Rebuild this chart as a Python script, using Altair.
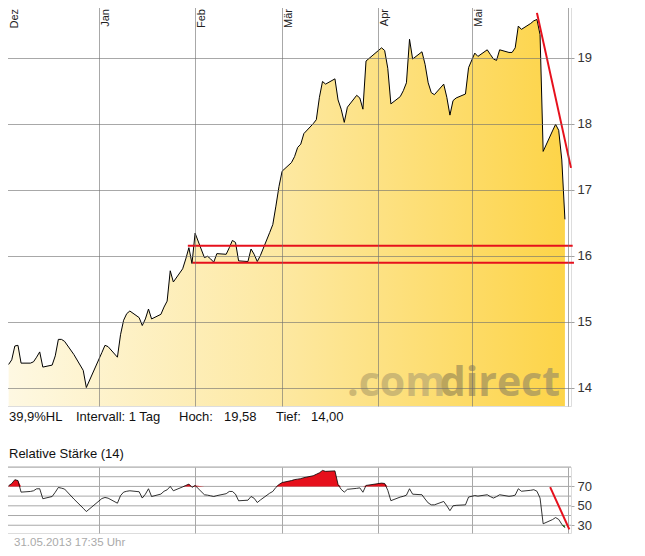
import altair as alt
import pandas as pd

# ---------------- data ----------------
dec_days = [3, 4, 5, 6, 7, 10, 11, 12, 13, 14, 17, 18, 19, 20, 21, 24, 27, 28]
dec_close = [14.35, 14.42, 14.63, 14.64, 14.37, 14.37, 14.39, 14.46, 14.54, 14.31, 14.34, 14.48, 14.73, 14.73, 14.70, 14.50, 14.26, 14.00]
dec_rsi = [70.7, 73.0, 76.9, 76.0, 64.1, 64.8, 65.5, 67.5, 67.6, 57.3, 59.6, 64.0, 68.9, 68.2, 67.3, 57.0, 47.5, 44.1]

jan_days = [2, 3, 4, 7, 8, 9, 10, 11, 14, 15, 16, 17, 18, 21, 22, 23, 24, 25, 28, 29, 30, 31]
jan_close = [14.53, 14.64, 14.62, 14.46, 14.80, 15.02, 15.12, 15.16, 15.06, 14.94, 15.04, 15.19, 15.04, 15.11, 15.22, 15.31, 15.77, 15.60, 15.80, 15.95, 16.12, 15.88]
jan_rsi = [57.5, 58.6, 57.9, 52.7, 60.5, 64.1, 65.0, 65.5, 64.5, 58.0, 62.0, 67.6, 59.6, 62.1, 65.0, 66.5, 70.0, 65.5, 69.5, 71.0, 72.4, 69.0]

feb_days = [1, 4, 5, 6, 7, 8, 11, 12, 13, 14, 15, 18, 19, 20, 21, 22, 25, 26, 27, 28]
feb_close = [16.34, 15.97, 15.99, 15.95, 15.90, 16.03, 16.02, 16.12, 16.23, 16.20, 15.92, 15.91, 16.10, 16.02, 15.91, 16.00, 16.35, 16.47, 16.75, 17.05]
feb_rsi = [71.0, 61.4, 61.0, 60.3, 59.6, 60.5, 62.5, 64.8, 64.8, 62.0, 55.2, 55.8, 59.6, 57.8, 53.4, 56.0, 63.0, 64.8, 69.0, 72.0]

mar_days = [1, 4, 5, 6, 7, 8, 11, 12, 13, 14, 15, 18, 19, 20, 21, 22, 25, 26, 27, 28]
mar_close = [17.28, 17.41, 17.50, 17.64, 17.69, 17.85, 18.00, 18.06, 18.40, 18.64, 18.60, 18.68, 18.36, 18.22, 18.02, 18.25, 18.43, 18.39, 18.22, 18.95]
mar_rsi = [74.0, 76.0, 77.0, 77.5, 78.0, 79.0, 81.0, 82.5, 84.0, 86.5, 85.5, 86.0, 72.0, 67.0, 64.1, 67.0, 68.0, 68.5, 64.0, 71.0]

apr_days = [2, 3, 4, 5, 8, 9, 10, 11, 12, 15, 16, 17, 18, 19, 22, 23, 24, 25, 26, 29, 30]
apr_close = [19.15, 19.11, 18.84, 18.30, 18.41, 18.50, 18.62, 19.28, 18.98, 19.09, 18.90, 18.62, 18.47, 18.44, 18.60, 18.40, 18.13, 18.35, 18.39, 18.45, 18.85]
apr_rsi = [73.4, 73.0, 66.0, 55.3, 59.0, 59.8, 61.0, 67.6, 62.0, 61.4, 57.0, 53.0, 51.0, 51.0, 54.5, 50.0, 45.0, 50.0, 50.5, 51.0, 59.0]

may_days = [2, 3, 6, 7, 8, 9, 10, 13, 14, 15, 16, 17, 20, 21, 22, 23, 24, 27, 28, 29, 30, 31]
may_close = [19.07, 19.02, 19.12, 19.05, 18.98, 18.96, 19.12, 19.08, 19.08, 19.15, 19.48, 19.43, 19.52, 19.56, 19.58, 19.35, 17.58, 17.89, 17.99, 17.90, 17.45, 16.55]
may_rsi = [60.6, 60.0, 61.4, 59.5, 58.0, 59.5, 61.4, 59.8, 60.2, 61.0, 67.6, 65.0, 66.0, 66.6, 65.0, 58.0, 31.5, 35.8, 37.9, 36.0, 31.0, 27.5]

month_labels = ["Dez", "Jan", "Feb", "Mär", "Apr", "Mai"]
month_starts = ["2012-12-01", "2013-01-01", "2013-02-01", "2013-03-01", "2013-04-01", "2013-05-01"]
grid_months = month_starts + ["2013-06-01"]

# support / resistance lines and trend lines drawn on the chart
level_values = [16.15, 15.89]
level_starts = ["2013-01-29T16:00:00", "2013-01-31T06:00:00"]
level_ends = ["2013-06-02T12:00:00", "2013-06-02T22:00:00"]
trend_dates = ["2013-05-22T00:00:00", "2013-06-01T23:00:00"]
trend_values = [19.68, 17.33]
rsi_trend_dates = ["2013-05-26T06:00:00", "2013-06-01T10:00:00"]
rsi_trend_values = [69.3, 25.8]

price_ticks = [14, 15, 16, 17, 18, 19]
price_domain = [13.72, 19.86]
rsi_grid = [30, 40, 50, 60, 70, 80, 90]
rsi_ticks = [30, 50, 70]
rsi_domain = [22, 90]
timestamp = "31.05.2013 17:35 Uhr"

# ---------------- build tables ----------------
rows = []
for yr, mo, days, closes, rsis in [
    (2012, 12, dec_days, dec_close, dec_rsi),
    (2013, 1, jan_days, jan_close, jan_rsi),
    (2013, 2, feb_days, feb_close, feb_rsi),
    (2013, 3, mar_days, mar_close, mar_rsi),
    (2013, 4, apr_days, apr_close, apr_rsi),
    (2013, 5, may_days, may_close, may_rsi),
]:
    for d, c, r in zip(days, closes, rsis):
        rows.append({"date": pd.Timestamp(yr, mo, d), "close": c, "rsi": r})
df = pd.DataFrame(rows)

hi, lo = df["close"].max(), df["close"].min()
fmt = lambda v: f"{v:.2f}".replace(".", ",")
hl_text = f"{(hi - lo) / lo * 100:.1f}".replace(".", ",") + "%HL"

months_df = pd.DataFrame({"date": pd.to_datetime(month_starts), "label": month_labels})
levels_df = pd.DataFrame({"start": pd.to_datetime(level_starts), "end": pd.to_datetime(level_ends), "level": level_values})
trend_df = pd.DataFrame({"date": pd.to_datetime(trend_dates), "value": trend_values})
rsi_trend_df = pd.DataFrame({"date": pd.to_datetime(rsi_trend_dates), "value": rsi_trend_values})
rsi_grid_df = pd.DataFrame({"v": rsi_grid})

# ---------------- styling ----------------
FONT = "Liberation Sans"
RED = "#e6101c"
W, H_MAIN, H_RSI = 570, 405, 66

x_dom = [alt.DateTime(year=2012, month=11, date=30, hours=13),
         alt.DateTime(year=2013, month=6, date=1, hours=23)]
grid_vals = [alt.DateTime(year=int(s[:4]), month=int(s[5:7]), date=1) for s in grid_months]
x_scale = alt.Scale(domain=x_dom)

x_axis_main = alt.Axis(values=grid_vals, grid=True, labels=False, ticks=False, domain=False,
                       title=None, gridColor="#6e6e6e", gridOpacity=0.6, zindex=1)
y_axis_main = alt.Axis(orient="right", values=price_ticks, format="d", grid=True,
                       gridColor="#6e6e6e", gridOpacity=0.6, tickColor="#a0a0a0", tickSize=3,
                       labelPadding=3, labelFontSize=13, labelColor="#333333", labelFont=FONT,
                       labelOverlap=False, domain=False, title=None, zindex=1)

grad = alt.Gradient(gradient="linear",
                    stops=[alt.GradientStop(color="#fef8e2", offset=0),
                           alt.GradientStop(color="#fde8a0", offset=0.5),
                           alt.GradientStop(color="#fdd448", offset=1)],
                    x1=0, x2=1, y1=0, y2=0)

base = alt.Chart(df)
y_price = alt.Y("close:Q", scale=alt.Scale(domain=price_domain, zero=False, nice=False), axis=y_axis_main)

area = base.transform_calculate(floor=str(price_domain[0])).mark_area(color=grad).encode(
    x=alt.X("date:T", scale=x_scale, axis=x_axis_main), y=y_price, y2="floor:Q")
line = base.mark_line(color="black", strokeWidth=1).encode(x="date:T", y="close:Q")
levels = alt.Chart(levels_df).mark_rule(color=RED, strokeWidth=2).encode(
    x="start:T", x2="end:T", y="level:Q")
trend = alt.Chart(trend_df).mark_line(color=RED, strokeWidth=2).encode(x="date:T", y="value:Q")

label_style = dict(angle=270, align="right", baseline="top", fontSize=11, font=FONT, color="#222222")
mlabel_first = alt.Chart(months_df.iloc[:1]).mark_text(dy=7, **label_style).encode(
    x="date:T", y=alt.value(8), text="label:N")
mlabels = alt.Chart(months_df.iloc[1:]).mark_text(dy=1, **label_style).encode(
    x="date:T", y=alt.value(8), text="label:N")


def label(txt, x, y, size=13, color="#111111", align="left", weight="normal", font=FONT):
    return alt.Chart(pd.DataFrame({"t": [txt]})).mark_text(
        align=align, baseline="alphabetic", fontSize=size, color=color, font=font,
        fontWeight=weight).encode(x=alt.value(x), y=alt.value(y), text="t:N")


wm1 = label(".com", 346, 395, size=41, color="#cdb873", weight="bold", font="Open Sans")
wm2 = label("direct", 559, 395, size=41, color="#bba55c", align="right", weight="bold", font="Open Sans")

info = [label(hl_text, 8, 420), label("Intervall: 1 Tag", 75, 420), label("Hoch:", 178, 420),
        label(fmt(hi), 223, 420), label("Tief:", 275, 420), label(fmt(lo), 310, 420)]

main = alt.layer(area, wm1, wm2, line, levels, trend, mlabel_first, mlabels, *info).properties(
    width=W, height=H_MAIN)

# ---------------- RSI panel ----------------
rsi_scale = alt.Scale(domain=rsi_domain, zero=False, nice=False)
x_axis_rsi = alt.Axis(values=grid_vals, grid=True, labels=False, ticks=False, domain=False,
                      title=None, gridColor="#a8a8a8")
y_axis_rsi = alt.Axis(orient="right", values=rsi_ticks, grid=False, tickColor="#a8a8a8", tickSize=3,
                      labelPadding=3, labelFontSize=13, labelColor="#333333", labelFont=FONT,
                      labelOverlap=False, labelBound=False, domain=False, title=None)

grid_rules = alt.Chart(rsi_grid_df).mark_rule(color="#a8a8a8", strokeWidth=1).encode(
    y=alt.Y("v:Q", scale=rsi_scale, axis=y_axis_rsi))
rbase = alt.Chart(df).transform_calculate(
    hi="max(datum.rsi, 70)", lo="min(datum.rsi, 30)", b70="70", b30="30")
red_fill = rbase.mark_area(color=RED).encode(
    x=alt.X("date:T", scale=x_scale, axis=x_axis_rsi),
    y=alt.Y("hi:Q", scale=rsi_scale, axis=y_axis_rsi), y2="b70:Q")
green_fill = rbase.mark_area(color="#2e9e2e").encode(
    x="date:T", y=alt.Y("lo:Q", scale=rsi_scale, axis=y_axis_rsi), y2="b30:Q")
rsi_line = alt.Chart(df).mark_line(color="black", strokeWidth=0.8).encode(
    x="date:T", y=alt.Y("rsi:Q", scale=rsi_scale, axis=y_axis_rsi))
rsi_trend = alt.Chart(rsi_trend_df).mark_line(color=RED, strokeWidth=2).encode(
    x="date:T", y=alt.Y("value:Q", scale=rsi_scale, axis=y_axis_rsi))
rsi_title = label("Relative Stärke (14)", 8, -9.5)
stamp = label(timestamp, 13, 79, size=11.5, color="#aaaaaa")

rsi = alt.layer(grid_rules, red_fill, green_fill, rsi_line, rsi_trend, rsi_title, stamp).properties(
    width=W, height=H_RSI)

chart = alt.vconcat(main, rsi, spacing=61, bounds="flush").properties(
    padding={"left": -8, "top": -8, "right": 5, "bottom": 5}
).configure_view(stroke="#a0a0a0", strokeWidth=1).configure(font=FONT)

chart.save("out.html", embed_options={"renderer": "svg", "actions": False})
